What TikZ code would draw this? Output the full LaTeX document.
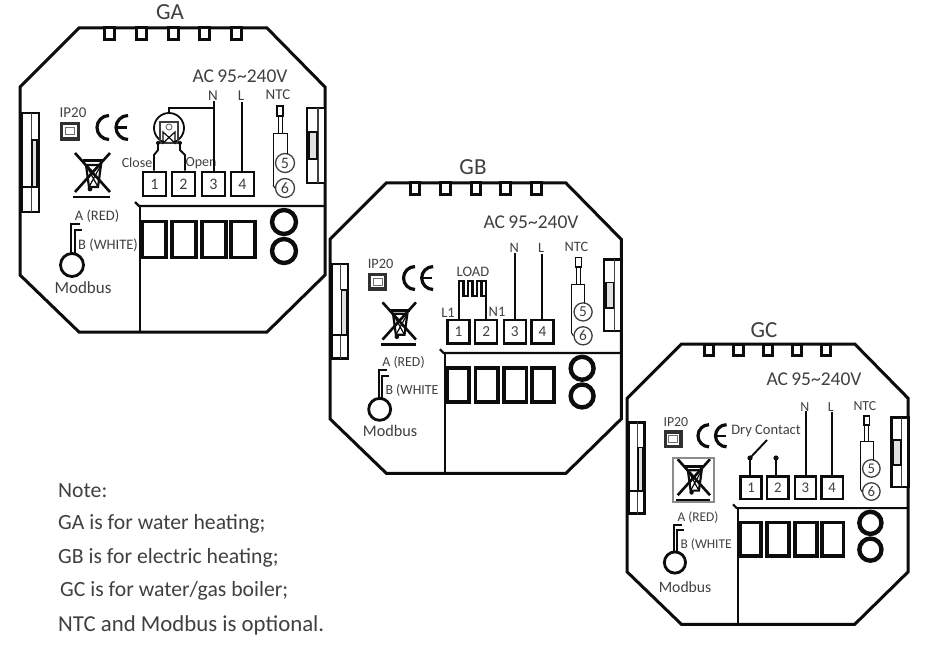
\documentclass[tikz,border=0pt]{standalone}
\usepackage{fontspec}
\setmainfont[Numbers=Lining]{Carlito}
\usetikzlibrary{calc}
\definecolor{ink}{HTML}{0C0C0C}
\definecolor{tcol}{HTML}{404040}
\newcommand{\fs}[1]{\fontsize{#1}{#1}\selectfont}
\tikzset{
  lbl/.style={text=tcol,inner sep=0pt,font=\fs{14.5}},
  small/.style={text=tcol,inner sep=0pt,font=\fs{15}},
  term/.style={draw=ink,line width=2.4pt,fill=white,minimum width=23pt,minimum height=24.5pt,inner sep=0pt,text=tcol,font=\fs{16}},
  relay/.style={draw=ink,line width=3.8pt,fill=white,minimum width=23.5pt,minimum height=36pt,inner sep=0pt},
  ring/.style={circle,draw=ink,line width=4.4pt,minimum size=24pt,inner sep=0pt},
  pin/.style={circle,draw=tcol,line width=1.3pt,fill=white,minimum size=19pt,inner sep=0pt,text=tcol,font=\fs{16}},
  tab/.style={draw=ink,line width=3pt,fill=white},
  wire/.style={draw=ink,line width=1.9pt},
  note/.style={text=tcol,inner sep=0pt,anchor=west,font=\fs{21.7}},
  title/.style={text=tcol,inner sep=0pt,font=\fs{23}},
  acv/.style={text=tcol,inner sep=0pt,font=\fs{19.5}},
}
% common body of one controller, drawn in the coordinates of panel GA
\newcommand{\panelbody}[3]{%
  \draw[draw=ink,line width=3pt,fill=white] (79,28)--(267,28)--(325,87)--(325,275)--(267,332)--(79,332)--(20,275)--(20,87)--cycle;
  \foreach \x in {104,136,168,199,231}{\draw[tab] (\x,28) rectangle ++(10,12);}
  % latches
  \draw[draw=ink,line width=2.6pt,fill=white] (22,113) rectangle (39,212);
  \draw[draw=tcol,line width=1pt] (31,113)--(31,140) (31,187)--(31,212);
  \draw[draw=ink,line width=2pt] (22,187)--(39,187);
  \draw[draw=ink,line width=1.3pt,fill=black!12] (32,140) rectangle (37,187);
  \draw[draw=ink,line width=2.6pt,fill=white] (307,108) rectangle (325,183);
  \draw[draw=tcol,line width=1.4pt] (318,108)--(318,183);
  \draw[draw=ink,line width=1.6pt,fill=black!12] (309,132) rectangle (317,159);
  % IP20 mark
  \node[lbl,font=\fs{15}] (#1ip) at (73,113) {IP20};
  \draw[draw=ink!85,line width=3.2pt] (61.5,123.5) rectangle (78.5,139);
  \draw[draw=ink!60,line width=1pt] (65.5,127.5) rectangle (74.5,135);
  % CE mark
  \draw[draw=ink,line width=3.2pt] (109,139.5) arc (90:270:12);
  \draw[draw=ink,line width=3.2pt] (128,139.5) arc (90:270:12);
  \draw[draw=ink,line width=2.4pt] (116,127.5)--(127,127.5);
  % crossed bin
  \draw[draw=ink,line width=2.6pt] (75,153)--(110,192) (110,153)--(75,192);
  \draw[draw=ink,line width=2.2pt] (86,165)--(101,165)--(98,187)--(89,187)--cycle;
  \draw[draw=ink,line width=1.2pt] (86,165)--(98,187) (101,165)--(89,187);
  \draw[draw=ink,line width=3pt] (83,161)--(104,161);
  \fill[ink] (90,189) circle (2.4);
  \draw[draw=ink,line width=2.6pt] (73,197)--(110,197);
  % separator
  \draw[draw=ink,line width=2.2pt] (135,202)--(139,206)--(325,206);
  \draw[draw=ink,line width=2.2pt] (140,206)--(140,332);
  % terminals
  \node[term] (#1t1) at (154.5,184) {1};
  \node[term] (#1t2) at (183.5,184) {2};
  \node[term] (#1t3) at (213.5,184) {3};
  \node[term] (#1t4) at (242.5,184) {4};
  % relay blocks
  \node[relay] (#1r1) at (154,239.5) {};
  \node[relay] (#1r2) at (184,239.5) {};
  \node[relay] (#1r3) at (214,239.5) {};
  \node[relay] (#1r4) at (243,239.5) {};
  \node[ring] (#1c1) at (284,222) {};
  \node[ring] (#1c2) at (284,251) {};
  % supply lines
  \node[small] (#1N) at (213,96) {N};
  \node[small] (#1L) at (241,96) {L};
  \node[small] (#1ntc) at (278,95) {NTC};
  \coordinate (#1Ntop) at (214,101);
  \coordinate (#1Ltop) at (242,102);
  \draw[wire] (#1Ntop)--(#1Ntop |- #1t3.north);
  \draw[wire] (#1Ltop)--(#1Ltop |- #1t4.north);
  % NTC probe
  \node[pin] (#1p5) at (285,163) {5};
  \node[pin] (#1p6) at (285,188) {6};
  \draw[draw=ink,line width=1.3pt,fill=white] (277,106) rectangle (283,116);
  \draw[draw=ink,line width=.9pt] (278,116)--(278,134) (282,116)--(282,134);
  \draw[draw=ink,line width=1pt] (273,185)--(273,134)--(287,134)--(287,154);
  \draw[draw=ink,line width=1pt] (273,185)--(#1p6.west);
  % Modbus
  \node[lbl] (#1a) at (97,216) {A (RED)};
  \node[lbl,anchor=west] (#1b) at (78,245) {#2};
  \node[circle,draw=ink,line width=2.8pt,minimum size=23pt,inner sep=0pt] (#1m) at (72,265) {};
  \draw[draw=ink,line width=2pt] (71,254)--(71,224)--(80,224);
  \draw[draw=ink,line width=2pt] (74.5,254)--(74.5,230)--(82,230);
  \node[lbl,font=\fs{17}] (#1mod) at (83,#3) {Modbus};
}
\begin{document}
\begin{tikzpicture}[x=1pt,y=-1pt]
\useasboundingbox[fill=white] (0,0) rectangle (939,663);
% ---------- GA
\panelbody{ga}{B (WHITE)}{288}
\node[title] (gaT) at (170,12) {GA};
\node[acv] (gaAC) at (240,76) {AC\,95\textasciitilde 240V};
\node[lbl,font=\fs{14}] (gaclose) at (137,163) {Close};
\node[lbl,font=\fs{14}] (gaopen) at (201,163) {Open};
\draw[wire] (gaNtop)--(gaNtop |- gat3.north);
\node[circle,draw=ink,line width=1.8pt,minimum size=30pt,inner sep=0pt] (gavalve) at (169,128) {};
\draw[draw=ink,line width=1.5pt] (gaNtop |- 0,108)--(169,108)--(gavalve.north);
\draw[draw=ink!80,line width=1.3pt] (160,122) rectangle (178,143);
\draw[draw=ink!60,line width=.9pt] (169,127) circle (3);
\draw[draw=ink,line width=1.2pt] (163,132)--(175,143)--(175,132)--(163,143)--cycle;
\fill[ink] (158,143) circle (2) (180,143) circle (2);
\draw[wire] (158,143)--(158,150)--(154,155)--(154,155 |- gat1.north);
\draw[wire] (180,143)--(180,150)--(185,155)--(185,155 |- gat2.north);
% ---------- GB
\begin{scope}[shift={(330,183)},scale=.955,transform shape]
\begin{scope}[shift={(-20,-28)}]
\panelbody{gb}{B (WHITE}{288}
\end{scope}
\end{scope}
\node[title] (gbT) at (473,167) {GB};
\node[acv] (gbAC) at (531,222) {AC\,95\textasciitilde 240V};
\node[lbl] (gbload) at (473,272) {LOAD};
\node[lbl] (gbl1) at (448,313) {L1};
\node[lbl] (gbn1) at (497,312) {N1};
\draw[draw=ink,line width=2.6pt] (459,296)--(459,281)--(463.5,281)--(463.5,296)--(468,296)--(468,281)--(472.5,281)--(472.5,296)--(477,296)--(477,281)--(481.5,281)--(481.5,296)--(486,296)--(486,281)--(481.5,281);
\draw[wire] (459,296)--(459,296 |- gbt1.north);
\draw[wire] (486,296)--(486,296 |- gbt2.north);
% ---------- GC
\begin{scope}[shift={(627,344)},scale=.922,transform shape]
\begin{scope}[shift={(-20,-28)}]
\panelbody{gc}{B (WHITE}{292}
\end{scope}
\end{scope}
\node[title] (gcT) at (764,330) {GC};
\node[acv] (gcAC) at (814,379) {AC\,95\textasciitilde 240V};
\node[lbl] (gcdry) at (766,431) {Dry Contact};
\draw[draw=black!45,line width=1.2pt] (673,458) rectangle (714,502);
\fill[ink] (750,458) circle (2.6) (776,458) circle (2.6);
\draw[wire] (750,458 |- gct1.north)--(750,458)--(767,440);
\draw[wire] (776,458)--(776,458 |- gct2.north);
% ---------- Notes
\node[note] (n1) at (58,491) {Note:};
\node[note] (n2) at (58,524) {GA is for water heating;};
\node[note] (n3) at (58,558) {GB is for electric heating;};
\node[note] (n4) at (60,591) {GC is for water/gas boiler;};
\node[note,font=\fs{22.8}] (n5) at (58,625) {NTC and Modbus is optional.};
\end{tikzpicture}
\end{document}
